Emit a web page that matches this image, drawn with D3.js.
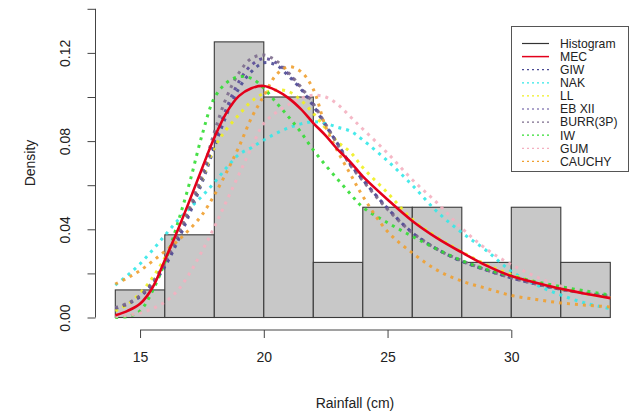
<!DOCTYPE html>
<html>
<head>
<meta charset="utf-8">
<script src="https://cdn.jsdelivr.net/npm/d3@7"></script>
<style>
  body { margin: 0; background: #fff; }
  text { font-family: "Liberation Sans", Arial, sans-serif; fill: #222; }
</style>
</head>
<body>
<div id="chart"></div>
<script>
// Histogram bins (rainfall in cm) and densities
const breaks = [14, 16, 18, 20, 22, 24, 26, 28, 30, 32, 34];
const densities = [0.0125, 0.0375, 0.125, 0.10, 0.025, 0.05, 0.05, 0.025, 0.05, 0.025];

// Tick values
const xTicks = [15, 20, 25, 30];
const yTicks = [0, 0.02, 0.04, 0.06, 0.08, 0.10, 0.12, 0.14];
const yLabels = [0, 0.04, 0.08, 0.12];

// Fitted density curves, read at these x positions
const xs = [14, 14.5, 15, 15.5, 16, 16.5, 17, 17.5, 18, 18.5, 19, 19.5, 20, 20.5, 21, 21.5, 22, 22.5, 23, 23.5, 24, 25, 26, 27, 28, 29, 30, 31, 32, 33, 34];

const mec    = [0.001, 0.003, 0.0062, 0.0135, 0.026, 0.039, 0.053, 0.0675, 0.0815, 0.093, 0.1005, 0.104, 0.105, 0.103, 0.0995, 0.0945, 0.0882, 0.0825, 0.076, 0.0705, 0.064, 0.0535, 0.0438, 0.036, 0.0295, 0.0235, 0.0188, 0.0158, 0.013, 0.0108, 0.0088];
const giw    = [0.004, 0.006, 0.0095, 0.015, 0.023, 0.034, 0.047, 0.061, 0.077, 0.092, 0.104, 0.1115, 0.1155, 0.1145, 0.1095, 0.1035, 0.096, 0.087, 0.0785, 0.0695, 0.0625, 0.0495, 0.0385, 0.031, 0.0255, 0.0215, 0.018, 0.0152, 0.0128, 0.011, 0.0096];
const nak    = [0.0147, 0.0192, 0.0243, 0.0305, 0.0372, 0.0438, 0.0495, 0.055, 0.0612, 0.068, 0.074, 0.077, 0.0805, 0.0835, 0.086, 0.0878, 0.0888, 0.088, 0.0862, 0.0845, 0.0805, 0.071, 0.06, 0.048, 0.0385, 0.0303, 0.021, 0.0148, 0.0102, 0.0065, 0.004];
const ll     = [0.003, 0.006, 0.011, 0.018, 0.027, 0.037, 0.049, 0.0625, 0.077, 0.0855, 0.092, 0.098, 0.1017, 0.1032, 0.1025, 0.0985, 0.0926, 0.0858, 0.0795, 0.075, 0.068, 0.0565, 0.0445, 0.0365, 0.0298, 0.024, 0.0195, 0.016, 0.013, 0.0108, 0.009];
const ebxii  = [0.0042, 0.0062, 0.0098, 0.0155, 0.024, 0.0355, 0.0485, 0.063, 0.08, 0.095, 0.107, 0.1145, 0.1175, 0.1155, 0.1105, 0.104, 0.0965, 0.0875, 0.0785, 0.0692, 0.0625, 0.0495, 0.0385, 0.031, 0.0255, 0.0215, 0.018, 0.0152, 0.0128, 0.011, 0.0096];
const burr   = [0.0045, 0.0065, 0.010, 0.016, 0.025, 0.037, 0.050, 0.065, 0.084, 0.100, 0.111, 0.1175, 0.119, 0.1165, 0.111, 0.1045, 0.097, 0.0875, 0.078, 0.069, 0.062, 0.049, 0.0385, 0.031, 0.0258, 0.0215, 0.018, 0.0152, 0.0128, 0.011, 0.0096];
const iw     = [0.0, 0.0005, 0.003, 0.012, 0.025, 0.042, 0.061, 0.0825, 0.0995, 0.1065, 0.1092, 0.1085, 0.104, 0.0975, 0.091, 0.084, 0.076, 0.069, 0.0625, 0.056, 0.050, 0.043, 0.0368, 0.031, 0.0258, 0.0218, 0.0188, 0.0162, 0.014, 0.012, 0.0102];
const gum    = [0.0005, 0.001, 0.002, 0.004, 0.007, 0.012, 0.020, 0.030, 0.041, 0.053, 0.065, 0.077, 0.088, 0.093, 0.0965, 0.0995, 0.1008, 0.100, 0.0965, 0.091, 0.0855, 0.0745, 0.0625, 0.052, 0.0405, 0.031, 0.024, 0.0185, 0.0142, 0.011, 0.0085];
const cauchy = [0.0152, 0.018, 0.0213, 0.0255, 0.030, 0.0345, 0.040, 0.0465, 0.0555, 0.066, 0.0775, 0.0905, 0.1005, 0.110, 0.1137, 0.1115, 0.1035, 0.0865, 0.075, 0.065, 0.055, 0.039, 0.0293, 0.0215, 0.0165, 0.0132, 0.010, 0.0082, 0.0066, 0.0056, 0.0048];

const fits = [
  { name: "GIW",      values: giw,    color: "#4b4b95" },
  { name: "NAK",      values: nak,    color: "#33e8e8" },
  { name: "LL",       values: ll,     color: "#f0f020" },
  { name: "EB XII",   values: ebxii,  color: "#5a4a98" },
  { name: "BURR(3P)", values: burr,   color: "#7c6c8c" },
  { name: "IW",       values: iw,     color: "#33dd33" },
  { name: "GUM",      values: gum,    color: "#f4b0c0" },
  { name: "CAUCHY",   values: cauchy, color: "#f0a030" }
];

const W = 632, H = 414;
const svg = d3.select("#chart").append("svg")
    .attr("width", W)
    .attr("height", H);

// Scales
const x = d3.scaleLinear().domain([14, 34]).range([115.3, 610.3]);
const y = d3.scaleLinear().domain([0, 0.14]).range([317.5, 8.8]);

// Histogram bars
svg.append("g").selectAll("rect")
    .data(densities)
    .enter().append("rect")
    .attr("x", (d, i) => x(breaks[i]))
    .attr("y", d => y(d))
    .attr("width", (d, i) => x(breaks[i + 1]) - x(breaks[i]))
    .attr("height", d => y(0) - y(d))
    .attr("fill", "#c8c8c8")
    .attr("stroke", "#3a3a3a")
    .attr("stroke-width", 1.1);

// Curves
const line = d3.line()
    .x((d, i) => x(xs[i]))
    .y(d => y(d))
    .curve(d3.curveCatmullRom.alpha(0.5));

svg.append("g").selectAll("path")
    .data(fits)
    .enter().append("path")
    .attr("d", d => line(d.values))
    .attr("fill", "none")
    .attr("stroke", d => d.color)
    .attr("stroke-width", 3)
    .attr("stroke-dasharray", "3,5")
    .attr("opacity", 0.9);

svg.append("path")
    .attr("d", line(mec))
    .attr("fill", "none")
    .attr("stroke", "#e3001b")
    .attr("stroke-width", 2.6);

// Axes (R style)
const xAxis = svg.append("g")
    .attr("transform", `translate(0, 330)`)
    .call(d3.axisBottom(x).tickValues(xTicks).tickSize(8).tickPadding(14).tickSizeOuter(0));
xAxis.select(".domain").attr("d", `M${x(15)},0H${x(30)}`);

const yAxis = svg.append("g")
    .attr("transform", `translate(95.5, 0)`)
    .call(d3.axisLeft(y).tickValues(yTicks).tickSize(8).tickSizeOuter(0)
        .tickFormat(d => yLabels.some(v => Math.abs(v - d) < 1e-9) ? d.toFixed(2) : ""));
yAxis.select(".domain").attr("d", `M0,${y(0)}V${y(0.14)}`);
yAxis.selectAll(".tick text")
    .attr("transform", "rotate(-90)")
    .attr("x", 0)
    .attr("y", -30)
    .attr("dy", "0.35em")
    .attr("text-anchor", "middle");

svg.selectAll(".domain, .tick line").attr("stroke", "#444");
svg.selectAll(".tick text").style("font-size", "14px").attr("fill", "#222");

// Axis titles
svg.append("text")
    .attr("x", 355)
    .attr("y", 408)
    .attr("text-anchor", "middle")
    .style("font-size", "14px")
    .text("Rainfall (cm)");

svg.append("text")
    .attr("transform", "translate(35, 163) rotate(-90)")
    .attr("text-anchor", "middle")
    .style("font-size", "14px")
    .text("Density");

// Legend
const legendItems = [
  { name: "Histogram", color: "#333", dash: null, width: 1.2 },
  { name: "MEC", color: "#e3001b", dash: null, width: 1.5 }
].concat(fits.map(f => ({ name: f.name, color: f.color, dash: "2,3", width: 1.2 })));

const legend = svg.append("g");
legend.append("rect")
    .attr("x", 511.5)
    .attr("y", 26.5)
    .attr("width", 117)
    .attr("height", 145)
    .attr("fill", "#fff")
    .attr("stroke", "#555");

const rowY = (d, i) => 43.5 + i * 13.1;

legend.selectAll("line")
    .data(legendItems)
    .enter().append("line")
    .attr("x1", 522)
    .attr("x2", 549)
    .attr("y1", rowY)
    .attr("y2", rowY)
    .attr("stroke", d => d.color)
    .attr("stroke-width", d => d.width)
    .attr("stroke-dasharray", d => d.dash);

legend.selectAll("text")
    .data(legendItems)
    .enter().append("text")
    .attr("x", 560)
    .attr("y", rowY)
    .attr("dy", "0.36em")
    .style("font-size", "12.2px")
    .text(d => d.name);
</script>
</body>
</html>
